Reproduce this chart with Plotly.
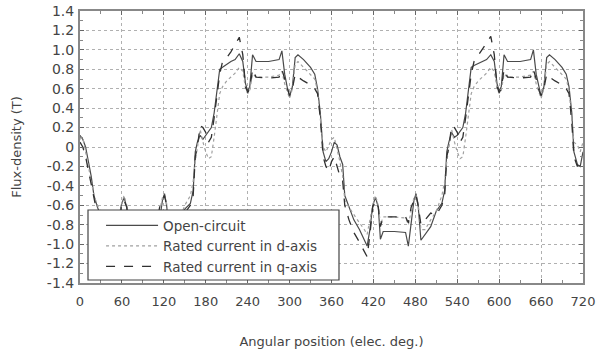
import plotly.graph_objects as go

# Angular position (elec. deg.)
angle = [
    0, 4, 8, 12, 16, 20, 25, 32, 40, 47, 51, 55, 59, 63, 67, 70, 74, 90, 106, 110, 114, 118, 121, 124, 128, 134, 142,
    150, 158, 162, 165, 168, 172, 176, 180, 184, 188, 192, 196, 200, 204, 210, 216, 222, 228, 233, 237, 240, 243, 247, 252,
    270, 285, 289, 293, 297, 300, 304, 308, 312, 320, 330, 336, 340, 344,
    348, 352, 356, 360, 364, 368, 372, 376, 379, 385, 392, 400, 407, 411, 415, 419, 423, 427, 430, 434,
    450, 466, 470, 474, 478, 481, 484, 488, 494, 502,
    510, 518, 522, 525, 528, 532, 536, 540, 544, 548, 552, 556, 560, 564, 570, 576, 582, 588, 593, 597, 600, 603, 607, 612,
    630, 645, 649, 653, 657, 660, 664, 668, 672, 680, 690, 696, 700, 704,
    707, 712, 716, 720,
]

open_circuit = [
    0.12, 0.08, 0.0, -0.15, -0.3, -0.5, -0.62, -0.75, -0.85, -0.95, -1.02, -0.85, -0.6, -0.52, -0.62, -0.95, -0.87, -0.87, -0.88, -1.02, -0.75, -0.55, -0.48, -0.6, -0.96, -0.9, -0.82,
    -0.64, -0.58, -0.45, -0.05, 0.05, 0.12, 0.08, 0.12, 0.15, 0.2, 0.35, 0.55, 0.8, 0.82, 0.85, 0.88, 0.9, 0.96, 0.88, 0.65, 0.58, 0.62, 0.95, 0.88,
    0.88, 0.9, 0.99, 0.75, 0.6, 0.52, 0.62, 0.92, 0.95, 0.9, 0.82, 0.75, 0.6, 0.35,
    -0.05, -0.15, -0.12, -0.05, 0.05, 0.02, -0.1, -0.18, -0.5, -0.62, -0.75, -0.85, -0.95, -1.02, -0.85, -0.6, -0.52, -0.62, -0.95, -0.87,
    -0.87, -0.88, -1.02, -0.75, -0.55, -0.48, -0.6, -0.96, -0.9, -0.82,
    -0.66, -0.58, -0.45, -0.05, 0.05, 0.15, 0.1, 0.12, 0.16, 0.2, 0.35, 0.6, 0.82, 0.84, 0.86, 0.88, 0.9, 0.95, 0.88, 0.65, 0.58, 0.62, 0.95, 0.88,
    0.88, 0.9, 1.0, 0.75, 0.6, 0.52, 0.62, 0.92, 0.95, 0.9, 0.82, 0.75, 0.62, 0.35,
    -0.05, -0.18, -0.2, -0.05,
]

d_axis = [
    0.08, 0.1, -0.05, -0.2, -0.35, -0.5, -0.6, -0.7, -0.78, -0.85, -0.9, -0.75, -0.6, -0.5, -0.6, -0.8, -0.72, -0.72, -0.73, -0.8, -0.65, -0.52, -0.5, -0.58, -0.85, -0.85, -0.75,
    -0.6, -0.5, -0.35, -0.15, 0.0, 0.18, 0.05, -0.05, -0.12, -0.1, 0.1, 0.35, 0.55, 0.62, 0.68, 0.72, 0.76, 0.82, 0.78, 0.6, 0.55, 0.58, 0.75, 0.72,
    0.72, 0.74, 0.78, 0.65, 0.55, 0.5, 0.6, 0.85, 0.88, 0.82, 0.75, 0.7, 0.58, 0.3,
    0.0, -0.05, 0.02, 0.08, 0.1, -0.02, -0.15, -0.3, -0.55, -0.62, -0.7, -0.78, -0.85, -0.9, -0.75, -0.6, -0.5, -0.6, -0.8, -0.72,
    -0.72, -0.73, -0.8, -0.65, -0.52, -0.5, -0.58, -0.85, -0.85, -0.75,
    -0.66, -0.5, -0.35, -0.15, 0.0, 0.18, 0.05, -0.05, -0.12, -0.1, 0.1, 0.35, 0.55, 0.62, 0.68, 0.72, 0.76, 0.82, 0.78, 0.6, 0.55, 0.58, 0.75, 0.72,
    0.72, 0.74, 0.78, 0.65, 0.55, 0.5, 0.6, 0.85, 0.88, 0.82, 0.75, 0.7, 0.58, 0.3,
    0.05, 0.02, -0.05, 0.05,
]

q_axis = [
    0.05, 0.0, -0.1, -0.25, -0.4, -0.55, -0.7, -0.88, -0.98, -1.08, -1.13, -0.9, -0.62, -0.55, -0.62, -0.82, -0.72, -0.72, -0.72, -0.78, -0.62, -0.55, -0.5, -0.6, -0.8, -0.75, -0.68,
    -0.68, -0.6, -0.5, -0.1, 0.0, 0.22, 0.2, 0.15, 0.05, 0.1, 0.3, 0.55, 0.75, 0.88, 0.92, 0.98, 1.05, 1.13, 0.95, 0.62, 0.56, 0.6, 0.8, 0.72,
    0.71, 0.72, 0.8, 0.7, 0.58, 0.53, 0.6, 0.75, 0.72, 0.68, 0.64, 0.6, 0.55, 0.3,
    -0.1, -0.2, -0.25, -0.15, -0.1, -0.2, -0.3, -0.35, -0.6, -0.75, -0.88, -0.98, -1.08, -1.13, -0.9, -0.62, -0.55, -0.62, -0.82, -0.72,
    -0.72, -0.72, -0.78, -0.62, -0.55, -0.5, -0.6, -0.8, -0.75, -0.68,
    -0.7, -0.6, -0.5, -0.1, 0.0, 0.22, 0.2, 0.15, 0.05, 0.1, 0.3, 0.55, 0.75, 0.88, 0.94, 1.0, 1.07, 1.14, 0.95, 0.62, 0.56, 0.6, 0.8, 0.72,
    0.71, 0.72, 0.8, 0.7, 0.58, 0.53, 0.6, 0.75, 0.72, 0.68, 0.64, 0.6, 0.55, 0.25,
    -0.1, -0.2, -0.15, -0.1,
]

series_names = ["Open-circuit", "Rated current in d-axis", "Rated current in q-axis"]

x_ticks = [0, 60, 120, 180, 240, 300, 360, 420, 480, 540, 600, 660, 720]
y_ticks = [1.4, 1.2, 1.0, 0.8, 0.6, 0.4, 0.2, 0, -0.2, -0.4, -0.6, -0.8, -1.0, -1.2, -1.4]
y_tick_labels = ["1.4", "1.2", "1.0", "0.8", "0.6", "0.4", "0.2", "0",
                 "-0.2", "-0.4", "-0.6", "-0.8", "-1.0", "-1.2", "-1.4"]

FONT = "DejaVu Sans"

fig = go.Figure()
fig.add_trace(go.Scatter(x=angle, y=open_circuit, mode="lines", name=series_names[0],
                         line=dict(color="#4a4a4a", width=1.2)))
fig.add_trace(go.Scatter(x=angle, y=d_axis, mode="lines", name=series_names[1],
                         line=dict(color="#a0a0a0", width=1.2, dash="dot")))
fig.add_trace(go.Scatter(x=angle, y=q_axis, mode="lines", name=series_names[2],
                         line=dict(color="#303030", width=1.3, dash="dash")))

# legend frame (white box over the curves, as in the reference)
fig.add_shape(type="rect", xref="paper", yref="paper",
              x0=0.0159, x1=0.5149, y0=0.011, y1=0.2684,
              fillcolor="white", line=dict(color="#444444", width=1.2), layer="above")

fig.update_layout(
    width=596, height=356,
    margin=dict(l=80, r=13, t=11, b=73, autoexpand=False),
    paper_bgcolor="white", plot_bgcolor="white",
    font=dict(family=FONT, size=14, color="#444444"),
    showlegend=True,
    legend=dict(
        x=0.016, y=0.136, xanchor="left", yanchor="middle",
        bgcolor="rgba(0,0,0,0)", borderwidth=0,
        font=dict(family=FONT, size=13.5, color="#444444"),
        indentation=13, itemwidth=52, tracegroupgap=0,
    ),
)

fig.update_xaxes(
    range=[0, 720], tickvals=x_ticks, ticktext=[str(v) for v in x_ticks],
    automargin=False, ticklabeloverflow="allow",
    showgrid=True, gridcolor="#b0b0b0", griddash="dot", gridwidth=1,
    zeroline=False, showline=True, linecolor="#888888", linewidth=2, mirror="ticks",
    ticks="inside", ticklen=4, tickcolor="#666666",
    minor=dict(ticks="inside", ticklen=3, dtick=30, tickcolor="#888888", showgrid=False),
    tickfont=dict(size=13), ticklabelstandoff=5,
    title=dict(text="Angular position (elec. deg.)", font=dict(size=13), standoff=29),
)
fig.update_yaxes(
    range=[-1.4, 1.4], tickvals=y_ticks, ticktext=y_tick_labels,
    automargin=False, ticklabeloverflow="allow",
    showgrid=True, gridcolor="#b0b0b0", griddash="dot", gridwidth=1,
    zeroline=False, showline=True, linecolor="#888888", linewidth=2, mirror="ticks",
    ticks="inside", ticklen=4, tickcolor="#666666",
    minor=dict(ticks="inside", ticklen=3, dtick=0.1, tickcolor="#888888", showgrid=False),
    tickfont=dict(size=14), ticklabelstandoff=1,
    title=dict(text="Flux-density (T)", font=dict(size=13), standoff=22),
)

# remove the browser's default 8px page margin so the figure sits at the window origin
fig.write_html("out.html", config={"displayModeBar": False},
               post_script="document.body.style.margin='0px';")
